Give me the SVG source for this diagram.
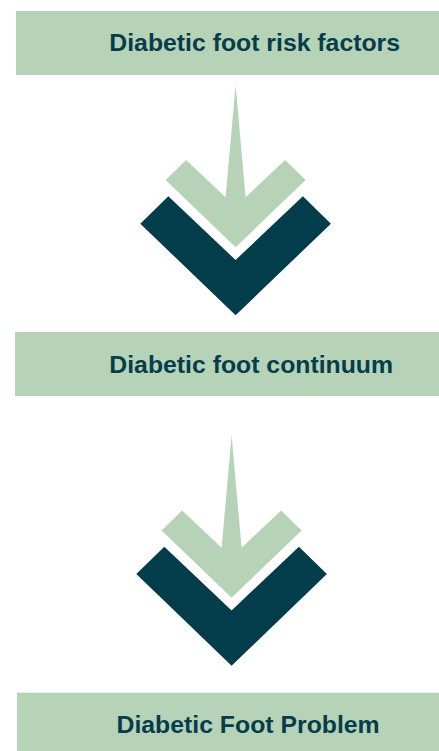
<svg xmlns="http://www.w3.org/2000/svg" width="439" height="751" viewBox="0 0 439 751">
  <style>
    .box { fill: #b6d3b8; }
    .lbl { font-family: "Liberation Sans", Arial, sans-serif; font-weight: bold; font-size: 24.8px; fill: #063d4b; }
    .light { fill: #b6d3b8; }
    .dark { fill: #033c4a; }
  </style>
  <defs>
    <g id="chev">
      <polygon class="light" points="235.6,85 245.6,197.3 285.1,160 305.6,180 235.6,247.3 165.6,180 186.1,160 225.6,197.3"/>
      <polygon class="dark" points="168.3,196.3 235.6,260 302.9,196.3 330.9,223.7 235.6,315.3 140.3,223.7"/>
    </g>
  </defs>
  <g id="node-risk-factors">
    <rect class="box" x="16" y="11" width="423" height="64"/>
    <text class="lbl" x="109.3" y="50.7">Diabetic foot risk factors</text>
  </g>
  <g id="node-continuum">
    <rect class="box" x="15" y="332" width="424" height="64"/>
    <text class="lbl" x="109.3" y="372.5">Diabetic foot continuum</text>
  </g>
  <g id="node-problem">
    <rect class="box" x="17" y="692.7" width="422" height="58.3"/>
    <text class="lbl" x="116.5" y="733.3">Diabetic Foot Problem</text>
  </g>
  <g id="connectors">
    <use href="#chev"/>
    <use href="#chev" transform="translate(-4,350.4)"/>
  </g>
</svg>
